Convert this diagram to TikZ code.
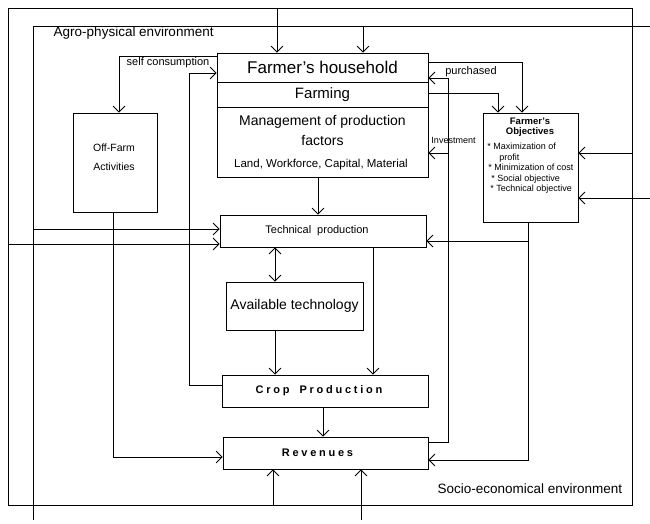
\documentclass[tikz,border=0pt]{standalone}
\usepackage{fontspec}
\setmainfont{Liberation Sans}
\usetikzlibrary{arrows.meta}

\tikzset{
    box/.style={draw, inner sep=0pt, align=center},
    envlabel/.style={font=\fontsize{13.5}{16}\selectfont},
    flowlabel/.style={font=\fontsize{11}{13}\selectfont},
    spaced/.style={font=\fontsize{11}{13}\selectfont\bfseries\addfontfeature{LetterSpace=25}},
    objtext/.style={font=\fontsize{9}{10.4}\selectfont},
}

\begin{document}
\begin{tikzpicture}[x=1pt, y=-1pt, line width=0.8pt, >={Straight Barb[length=6pt,width=12pt]}]
    \useasboundingbox (0,0) rectangle (650,523);

    % environments
    \coordinate (socionw) at (8,8);
    \coordinate (sociose) at (632,505);
    \coordinate (agronw) at (33,26);
    \coordinate (agroend) at (650,520);
    \draw (socionw) rectangle (sociose);
    \draw (agroend |- agronw) -- (agronw) -- (agronw |- agroend);
    \node[envlabel, anchor=west] (agrolabel) at (50,33) {Agro-physical environment};
    \node[envlabel, anchor=east] (sociolabel) at (626,489) {Socio-economical environment};

    % boxes
    \node[box, minimum width=211pt, minimum height=29pt, font=\fontsize{17}{20}\selectfont] (hh) at (322.5,67.5) {Farmer's household};
    \node[box, minimum width=211pt, minimum height=25pt, font=\fontsize{15}{18}\selectfont] (farm) at (322.5,94.5) {Farming};
    \node[box, minimum width=211pt, minimum height=70pt] (mgmt) at (322.5,142) {};
    \node[font=\fontsize{14}{20}\selectfont, align=center] (mgmttitle) at (322.5,130) {Management of production\\factors};
    \node[font=\fontsize{11.5}{14}\selectfont] (mgmtlist) at (321,165) {Land, Workforce, Capital, Material};

    \node[box, minimum width=84pt, minimum height=99pt] (offfarm) at (115,162.5) {};
    \node[font=\fontsize{10.5}{19}\selectfont, align=center] (offfarmtext) at (114,157.5) {Off-Farm\\Activities};

    \node[box, minimum width=206pt, minimum height=32pt, font=\fontsize{11}{13}\selectfont] (tech) at (323,231) {Technical\hspace{6pt}production\hspace{12pt}};
    \node[box, minimum width=137pt, minimum height=48pt, font=\fontsize{14}{17}\selectfont] (avail) at (294.5,306) {Available technology};
    \node[box, minimum width=206pt, minimum height=32pt, spaced] (crop) at (325,391) {Crop\hspace{10pt}Production\hspace{12pt}};
    \node[box, minimum width=205pt, minimum height=32pt, spaced] (rev) at (325.5,453) {Revenues\hspace{16pt}};

    \node[box, minimum width=95pt, minimum height=109pt] (obj) at (530.5,167.5) {};
    \node[objtext, font=\fontsize{9.5}{10}\selectfont\bfseries, align=center] (objtitle) at (530,127.5) {Farmer's\\Objectives};
    \node[objtext, align=left, anchor=north west, inner sep=0pt] (objlist) at (487,143)
        {* Maximization of\\\hspace*{12pt}profit\\\hspace*{1pt}* Minimization of cost\\\hspace*{4pt}* Social objective\\\hspace*{3pt}* Technical objective};

    % inputs from the environments
    \coordinate (hhin1) at ([xshift=-45.5pt]hh.north);
    \coordinate (hhin2) at ([xshift=40.5pt]hh.north);
    \draw[->] (hhin1 |- socionw) -- (hhin1);
    \draw[->] (hhin2 |- agronw) -- (hhin2);
    \coordinate (techin1) at ([yshift=2pt]tech.west);
    \coordinate (techin2) at ([yshift=-13pt]tech.west);
    \draw[->] (techin1 -| agronw) -- (techin1);
    \draw[->] (techin2 -| socionw) -- (techin2);
    \coordinate (revin1) at ([xshift=-52.5pt]rev.south);
    \coordinate (revin2) at ([xshift=35.5pt]rev.south);
    \draw[->] (revin1 |- sociose) -- (revin1);
    \draw[->] (revin2 |- agroend) -- (revin2);
    \coordinate (objin1) at ([yshift=14.5pt]obj.east);
    \coordinate (objin2) at ([yshift=-30.5pt]obj.east);
    \draw[->] (objin1 -| sociose) -- (objin1);
    \draw[->] (objin2 -| agroend) -- (objin2);

    % household and off-farm
    \draw[->] ([yshift=11.5pt]hh.west) -| ([xshift=4pt]offfarm.north);
    \node[flowlabel] (selfcons) at (168,63) {self consumption};
    \draw[->] ([yshift=6pt]crop.west) -- ++(-32,0) |- ([yshift=-5.5pt]hh.west);
    \draw[->] ([xshift=-2pt]offfarm.south) |- ([yshift=-4pt]rev.west);

    % production chain
    \coordinate (mgmtout) at ([xshift=-4.5pt]mgmt.south);
    \draw[->] (mgmtout) -- (mgmtout |- tech.north);
    \coordinate (availx) at ([xshift=-19.5pt]avail.north);
    \draw[<->] (availx |- tech.south) -- (availx);
    \draw[->] (availx |- avail.south) -- (availx |- crop.north);
    \coordinate (techout) at ([xshift=50pt]tech.south);
    \draw[->] (techout) -- (techout |- crop.north);
    \coordinate (cropout) at ([xshift=-2pt]crop.south);
    \draw[->] (cropout) -- (cropout |- rev.north);

    % revenues back to the household
    \coordinate (revout) at ([yshift=11pt]rev.east);
    \coordinate (backx) at ([xshift=20pt]revout);
    \coordinate (invest) at ([yshift=-11pt]mgmt.east);
    \draw[->] (revout) -- (backx) |- ([yshift=-10.5pt]hh.east);
    \draw[->] (backx |- invest) -- (invest);
    \node[flowlabel] (purchased) at (471,72) {purchased};
    \node[font=\fontsize{9}{11}\selectfont] (investment) at (453.5,140) {Investment};

    % objectives
    \draw[->] ([yshift=5.5pt]hh.east) -| ([xshift=-8.5pt]obj.north);
    \draw[->] ([yshift=1.5pt]farm.east) -| ([xshift=-32.5pt]obj.north);
    \coordinate (objout) at ([xshift=-2.5pt]obj.south);
    \coordinate (techin3) at ([yshift=-10pt]tech.east);
    \draw[->] (objout) |- ([yshift=-7pt]rev.east);
    \draw[->] (objout |- techin3) -- (techin3);
\end{tikzpicture}
\end{document}
